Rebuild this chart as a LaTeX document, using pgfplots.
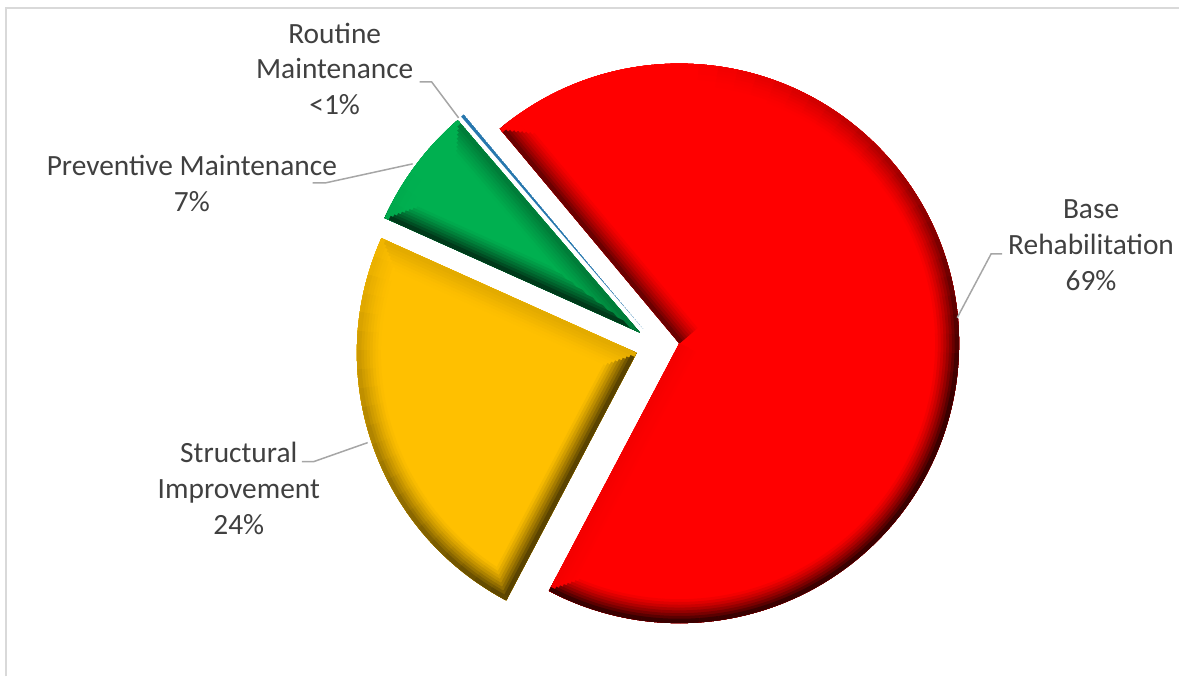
\documentclass[border=0pt]{standalone}
\usepackage{pgfplots}
\usepackage{pgfplotstable}
\pgfplotsset{compat=1.18}
\usetikzlibrary{calc}
\usepackage{fontspec}
\setmainfont{Carlito}
\definecolor{pieRed}{HTML}{FF0000}
\definecolor{pieRedDk}{HTML}{3A0000}
\definecolor{pieYel}{HTML}{FFC000}
\definecolor{pieYelDk}{HTML}{5A4300}
\definecolor{pieGrn}{HTML}{00B050}
\definecolor{pieGrnDk}{HTML}{003A1A}
\definecolor{pieBlu}{HTML}{2878AE}
\definecolor{txt}{HTML}{404040}
\definecolor{lead}{HTML}{A6A6A6}
\definecolor{frame}{HTML}{D9D9D9}

% shares of the four categories (per cent)
\pgfplotstableread{
slice share
BaseRehabilitation 68.8
StructuralImprovement 24.0
PreventiveMaintenance 7.0
RoutineMaintenance 0.2
}\piedata
\pgfplotstablegetelem{0}{share}\of\piedata \let\vA\pgfplotsretval
\pgfplotstablegetelem{1}{share}\of\piedata \let\vB\pgfplotsretval
\pgfplotstablegetelem{2}{share}\of\piedata \let\vC\pgfplotsretval
\pgfplotstablegetelem{3}{share}\of\piedata \let\vD\pgfplotsretval
\pgfmathsetmacro\aA{129.9}
\pgfmathsetmacro\aB{\aA-3.6*\vA}
\pgfmathsetmacro\aC{\aB-3.6*\vB}
\pgfmathsetmacro\aD{\aC-3.6*\vC}

% #1 start angle, #2 share, #3 fill colour, #4 dark colour, #5 bevel (1/0)
\newcommand\pieslice[5]{%
\pgfplotsextra{%
  \pgfmathsetmacro\sst{#1}%
  \pgfmathsetmacro\sspan{3.6*#2}%
  \pgfmathsetmacro\sen{#1-\sspan}%
  \pgfmathsetmacro\smid{#1-\sspan/2}%
  \coordinate (A) at ($(axis cs:658,346)+(\smid:11pt)$);
  \begin{scope}
    \clip (A) -- ++(\sst:140pt) arc[start angle=\sst,end angle=\sen,radius=140pt] -- cycle;
    \fill[#3] (A) -- ++(\sst:140pt) arc[start angle=\sst,end angle=\sen,radius=140pt] -- cycle;
    \ifnum#5=1
      \pgfmathtruncatemacro\nseg{ceil(\sspan/4)}%
      \pgfmathsetmacro\dseg{\sspan/\nseg}%
      \pgfmathsetmacro\fs{max(0,min(1,0.6*(1-sin(\sst+90))+0.3*cos(\sst+90)))}%
      \pgfmathsetmacro\fe{max(0,min(1,0.6*(1-sin(\sen-90))+0.3*cos(\sen-90)))}%
      \foreach \j in {1,...,8}{%
        \pgfmathsetmacro\w{24-2.8*(\j-1)}%
        \pgfmathsetmacro\g{(\j/8)^1.3}%
        \pgfmathtruncatemacro\ps{100*\fs*\g}%
        \pgfmathtruncatemacro\pe{100*\fe*\g}%
        \draw[#4!\ps!#3, line width=\w pt] (A) -- ++(\sst:140pt);
        \draw[#4!\pe!#3, line width=\w pt] (A) -- ++(\sen:140pt);
        \foreach \k in {1,...,\nseg}{%
          \pgfmathsetmacro\ta{\sst-(\k-1)*\dseg}%
          \pgfmathsetmacro\tb{\ta-\dseg}%
          \pgfmathsetmacro\tm{\ta-\dseg/2}%
          \pgfmathtruncatemacro\pk{100*\g*max(0,min(1,0.6*(1-sin(\tm))+0.3*cos(\tm)))}%
          \draw[#4!\pk!#3, line width=\w pt] (A) ++(\ta:140pt) arc[start angle=\ta,end angle=\tb,radius=140pt];
        }%
      }%
    \fi
  \end{scope}
}}

\begin{document}%
\begin{tikzpicture}
\begin{axis}[
  width=590pt, height=338.5pt, scale only axis,
  xmin=0, xmax=1180, ymin=0, ymax=677, y dir=reverse,
  hide axis, clip=false,
]
\path (axis cs:0,0) rectangle (axis cs:1180,677);
\draw[frame, line width=1pt] (axis cs:6,677) -- (axis cs:6,8) -- (axis cs:1180,8);

\pieslice{\aA}{\vA}{pieRed}{pieRedDk}{1}
\pieslice{\aB}{\vB}{pieYel}{pieYelDk}{1}
\pieslice{\aC}{\vC}{pieGrn}{pieGrnDk}{1}
\pieslice{\aD}{\vD}{pieBlu}{pieBlu}{0}

% leader lines
\draw[lead, line width=0.75pt] (axis cs:420,82) -- (axis cs:432,82) -- (axis cs:459,118);
\draw[lead, line width=0.75pt] (axis cs:313,183) -- (axis cs:326,183) -- (axis cs:413,164);
\draw[lead, line width=0.75pt] (axis cs:1003,254) -- (axis cs:992,254) -- (axis cs:958,318);
\draw[lead, line width=0.75pt] (axis cs:302,462) -- (axis cs:314,462) -- (axis cs:368,443);

% labels
\tikzset{lbl/.style={align=center, inner sep=0pt, text=txt, font=\fontsize{14.7pt}{18pt}\selectfont}}
\node[lbl] at (axis cs:335,69) {Routine\\Maintenance\\<1\%};
\node[lbl] at (axis cs:192,183.5) {Preventive Maintenance\\7\%};
\node[lbl] at (axis cs:1092,245) {Base\\Rehabilitation\\69\%};
\node[lbl] at (axis cs:239,489) {Structural\\Improvement\\24\%};
\end{axis}
\end{tikzpicture}%
\end{document}
